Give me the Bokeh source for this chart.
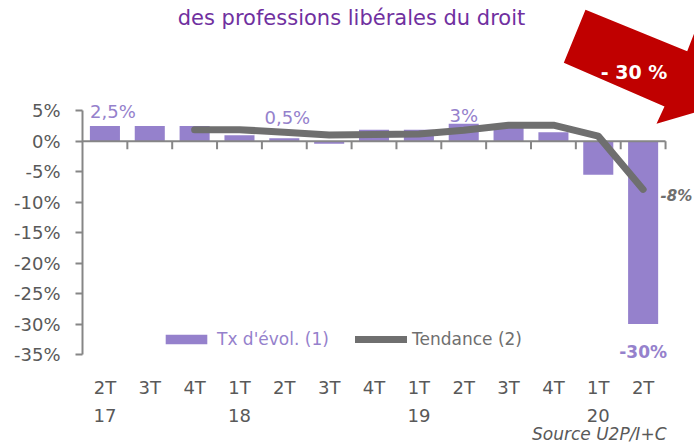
import numpy as np
from bokeh.plotting import figure
from bokeh.models import Range1d, FixedTicker, PrintfTickFormatter, Legend, LegendItem, ColumnDataSource
from bokeh.core.properties import value
from bokeh.embed import file_html
from bokeh.resources import INLINE

# ---------------- data ----------------
quarters = ["2T", "3T", "4T", "1T", "2T", "3T", "4T", "1T", "2T", "3T", "4T", "1T", "2T"]
years = ["17", "", "", "18", "", "", "", "19", "", "", "", "20", ""]
tx_evol = [2.5, 2.5, 2.5, 1.0, 0.5, -0.4, 1.9, 1.9, 2.9, 2.5, 1.5, -5.5, -30.0]
tendance = [np.nan, np.nan, 1.9, 1.9, 1.5, 1.05, 1.1, 1.2, 1.8, 2.65, 2.65, 0.85, -7.9]
bar_label_idx = [0, 4, 8]
bar_label_txt = ["2,5%", "0,5%", "3%"]
last_bar_label = "-30%"
last_trend_label = "-8%"
y_ticks = [5, 0, -5, -10, -15, -20, -25, -30, -35]
title_text = "des professions libérales du droit"
arrow_text = "- 30 %"
source_text = "Source U2P/I+C"
legend_bar = "Tx d'évol. (1)"
legend_line = "Tendance (2)"

# ---------------- layout helpers (pixel -> data) ----------------
W, H = 694, 443
X0_PX, UNIT_PX = 82.0, 44.85
ZERO_PX, PCT_PX = 140.8, 6.09

def xd(px):
    return -0.5 + (px - X0_PX) / UNIT_PX

def yd(py):
    return (ZERO_PX - py) / PCT_PX

def ypx(v):
    return ZERO_PX - v * PCT_PX

PURPLE = "#9581CC"
GREY_LINE = "#6F6F6F"
AXIS = "#868686"
TXT = "#595959"
FONT = value("DejaVu Sans")

idx = list(range(len(quarters)))

p = figure(width=W, height=H, output_backend="svg", toolbar_location=None,
           x_range=Range1d(xd(X0_PX), xd(W)), y_range=Range1d(yd(H), yd(0)),
           min_border_left=int(X0_PX), min_border_right=0, min_border_top=0, min_border_bottom=0)
p.outline_line_color = None
p.xgrid.visible = False
p.ygrid.visible = False
p.xaxis.visible = False
p.background_fill_color = "white"
p.border_fill_color = "white"

# y axis
ya = p.yaxis[0]
ya.ticker = FixedTicker(ticks=y_ticks)
ya.formatter = PrintfTickFormatter(format="%d%%")
ya.bounds = (min(y_ticks), max(y_ticks))
ya.axis_line_color = AXIS
ya.axis_line_width = 2
ya.major_tick_line_color = AXIS
ya.major_tick_line_width = 2
ya.major_tick_out = 7
ya.major_tick_in = 0
ya.minor_tick_line_color = None
ya.major_label_standoff = 15
ya.major_label_text_font = "DejaVu Sans"
ya.major_label_text_font_size = "18px"
ya.major_label_text_color = TXT

# title
p.text(x=[xd(351)], y=[yd(17)], text=[title_text], text_align="center", text_baseline="alphabetic",
       text_font=FONT, text_font_size="21px", text_color="#7030A0")

# bars
src = ColumnDataSource(dict(x=idx, top=tx_evol))
bars = p.vbar(x="x", top="top", bottom=0, width=0.67, source=src, fill_color=PURPLE, line_color=None)

# zero axis + ticks
n = len(quarters)
p.segment(x0=[-0.5], y0=[0], x1=[n - 0.5], y1=[0], line_color=AXIS, line_width=2)
bx = [i - 0.5 for i in range(1, n + 1)]
p.segment(x0=bx, y0=[0] * len(bx), x1=bx, y1=[yd(ZERO_PX + 8)] * len(bx), line_color=AXIS, line_width=2)

# trend line
tsrc = ColumnDataSource(dict(x=idx, y=tendance))
line = p.line(x="x", y="y", source=tsrc, line_color=GREY_LINE, line_width=7, line_cap="round", line_join="round")

# bar data labels
lab_dy = [-15, -20.5, -8.5]
lab_dx = [8, 3, 0]
p.text(x=bar_label_idx,
       y=[yd(ypx(tx_evol[i]) + d) for i, d in zip(bar_label_idx, lab_dy)],
       x_offset=lab_dx,
       text=bar_label_txt, text_align="center", text_baseline="alphabetic",
       text_font=FONT, text_font_size="18px", text_color=PURPLE)
p.text(x=[n - 1], y=[yd(ypx(tx_evol[-1]) + 28)], text=[last_bar_label], text_align="center",
       text_baseline="alphabetic", text_font=FONT, text_font_size="17px", text_font_style="bold",
       text_color=PURPLE)
p.text(x=[xd(660)], y=[yd(ypx(tendance[-1]) + 7)], text=[last_trend_label], text_align="left",
       text_baseline="middle", text_font=FONT, text_font_size="15px", text_font_style="bold italic",
       text_color=GREY_LINE)

# x tick labels
p.text(x=idx, y=[yd(387)] * n, text=quarters, text_align="center", text_baseline="middle",
       text_font=FONT, text_font_size="18px", text_color=TXT)
yi = [i for i, t in enumerate(years) if t]
p.text(x=yi, y=[yd(414.5)] * len(yi), text=[years[i] for i in yi], text_align="center",
       text_baseline="middle", text_font=FONT, text_font_size="18px", text_color=TXT)

# red arrow
arrow_px = [(585, 9.3), (686.7, 50.7), (696, 27), (735, 100), (656, 123.3), (664, 106), (563.3, 62.3)]
p.patch(x=[xd(a) for a, b in arrow_px], y=[yd(b) for a, b in arrow_px], fill_color="#C00000", line_color=None)
p.text(x=[xd(633.5)], y=[yd(71)], text=[arrow_text], text_align="center", text_baseline="middle",
       text_font=FONT, text_font_size="19px", text_font_style="bold", text_color="white")

# source
p.text(x=[xd(666)], y=[yd(433)], text=[source_text], text_align="right", text_baseline="alphabetic",
       text_font=FONT, text_font_size="17px", text_font_style="italic", text_color=TXT)

# legends
def mk_legend(item, renderer, color, loc):
    lg = Legend(items=[LegendItem(label=item, renderers=[renderer])], location=loc,
                orientation="horizontal", glyph_width=52, glyph_height=12, label_standoff=5,
                padding=0, margin=0, border_line_color=None, background_fill_alpha=0,
                label_text_font="DejaVu Sans", label_text_font_size="17px", label_text_color=color)
    p.add_layout(lg, "center")

mk_legend(legend_bar, bars, PURPLE, (160 - X0_PX, H - 349))
mk_legend(legend_line, line, GREY_LINE, (355 - X0_PX, H - 349))

open("out.html", "w").write(file_html(p, INLINE))
